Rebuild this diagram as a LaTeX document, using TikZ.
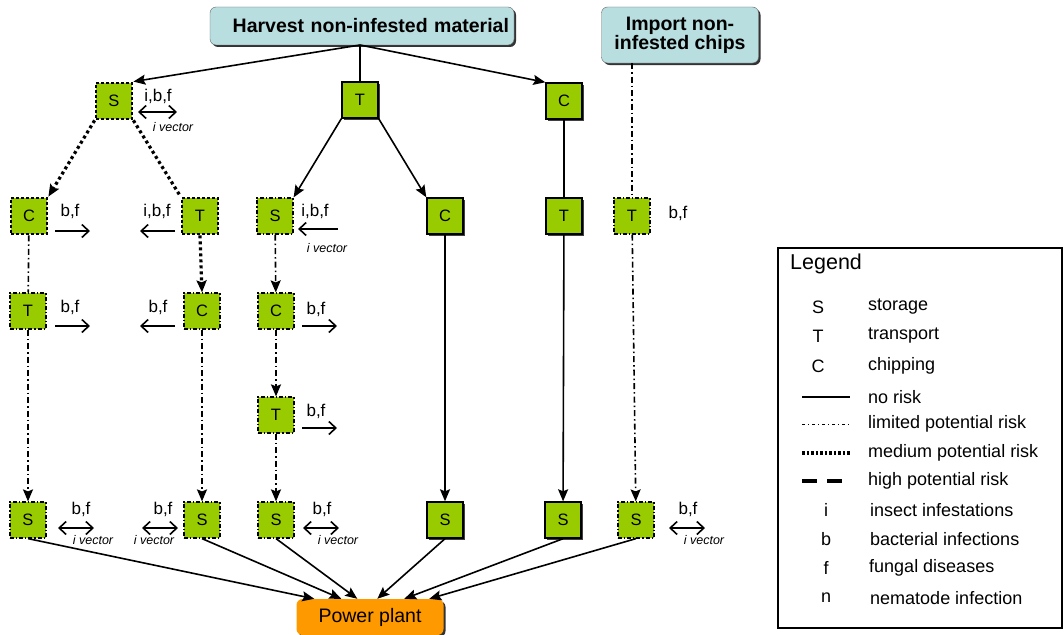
\documentclass[tikz,border=0pt]{standalone}
\usepackage{fontspec}
\setmainfont{Liberation Sans}
\usetikzlibrary{arrows.meta,shadows,positioning}
\definecolor{boxgreen}{HTML}{99CC00}
\definecolor{headfill}{HTML}{B8DEE0}
\definecolor{plantfill}{HTML}{FF9900}
\tikzset{
  x=1pt, y=-1pt,
  every node/.style={font=\fontsize{16}{18}\selectfont},
  stepbase/.style={fill=boxgreen, minimum size=36pt, inner sep=0pt, font=\fontsize{16.5}{18}\selectfont},
  norisk/.style={stepbase, draw=black, line width=1.4pt,
     drop shadow={shadow xshift=2.2pt, shadow yshift=-2.2pt, fill=black!75, opacity=1}},
  limrisk/.style={stepbase, draw=black, line width=1.2pt, dash pattern=on 4pt off 2pt on 1.2pt off 2pt},
  medrisk/.style={stepbase, draw=black, line width=2.8pt, dash pattern=on 2.8pt off 2.2pt, minimum size=36pt},
  cnone/.style={draw, line width=1.6pt},
  climited/.style={draw, line width=1.6pt, dash pattern=on 6pt off 3pt on 1.5pt off 3pt},
  cmedium/.style={draw, line width=3.2pt, dash pattern=on 3pt off 3pt},
  tip/.style={-{Stealth[length=12pt,width=10pt,inset=2pt]}},
  risklbl/.style={font=\fontsize{17}{19}\selectfont, inner sep=0pt},
  veclbl/.style={font=\fontsize{12.5}{14}\selectfont\itshape, inner sep=0pt},
  hazard/.style={line width=1.6pt, -{Straight Barb[length=7pt,width=13pt]}},
  twoway/.style={line width=1.6pt, {Straight Barb[length=7pt,width=13pt]}-{Straight Barb[length=7pt,width=13pt]}},
  headbox/.style={fill=headfill, rounded corners=6pt, draw=black!60, line width=0.4pt,
     drop shadow={shadow xshift=2pt, shadow yshift=-2pt, fill=black!80, opacity=1},
     font=\fontsize{19.5}{22}\selectfont\bfseries},
  keyline/.style={line width=1.5pt},
  keytxt/.style={anchor=west, inner sep=0pt, font=\fontsize{18}{20}\selectfont},
  keysym/.style={inner sep=0pt, font=\fontsize{18}{20}\selectfont},
}
\begin{document}
\begin{tikzpicture}
\useasboundingbox (0,0) rectangle (1064,634);

% sources
\node[headbox, minimum width=304pt, minimum height=38pt, text width=294pt, align=right, inner xsep=5pt, inner ysep=8pt] (harvest) at (362,26) {Harvest non-infested material};
\node[headbox, minimum width=157pt, minimum height=56pt, align=center, inner sep=4pt] (import) at (680,35) {Import non-\\[-3pt]infested chips};
\coordinate (hsplit) at (360,45);

% process steps
\node[medrisk] (s1) at (114,101) {S};
\node[norisk]  (t1) at (360,100) {T};
\node[norisk]  (c1) at (564,101) {C};

\node[medrisk] (c2a) at (29,216) {C};
\node[medrisk] (t2b) at (200,216) {T};
\node[limrisk] (s2c) at (275,216) {S};
\node[norisk]  (c2d) at (445,216) {C};
\node[norisk]  (t2e) at (564,216) {T};
\node[limrisk] (t2f) at (632,216) {T};

\node[limrisk] (t3a) at (28,311) {T};
\node[limrisk] (c3b) at (202,311) {C};
\node[limrisk] (c3c) at (276,311) {C};

\node[limrisk] (t4c) at (276,415) {T};

\node[limrisk] (s5a) at (28,520) {S};
\node[limrisk] (s5b) at (202,520) {S};
\node[limrisk] (s5c) at (276,520) {S};
\node[norisk]  (s5d) at (445,520) {S};
\node[norisk]  (s5e) at (563,520) {S};
\node[limrisk] (s5f) at (636,520) {S};

\node[fill=plantfill, rounded corners=6pt, minimum width=147pt, minimum height=36pt,
      drop shadow={shadow xshift=2pt, shadow yshift=-2pt, fill=black!80, opacity=1},
      font=\fontsize{19.5}{22}\selectfont] (plant) at (370,617) {Power plant};

% flows from the harvest
\draw[cnone, tip] (hsplit) -- (s1.north east);
\draw[cnone] (harvest.south -| t1) -- (t1.north);
\draw[cnone, tip] (hsplit) -- (c1.north west);

% first chain
\draw[cmedium, tip] (s1.south west) -- (c2a.north east);
\draw[cmedium] (s1.south east) -- (t2b.north west);
\draw[climited] (c2a) -- (t3a);
\draw[climited, tip] (t3a) -- (s5a);
\draw[cmedium, tip] (t2b.south) -- (c3b.north);
\draw[climited, tip] (c3b) -- (s5b);

% second chain
\draw[cnone, tip] (t1.south west) -- (s2c.north east);
\draw[cnone, tip] (t1.south east) -- (c2d.north west);
\draw[climited, tip] (s2c) -- (c3c);
\draw[climited, tip] (c3c) -- (t4c);
\draw[climited, tip] (t4c) -- (s5c);
\draw[cnone, tip] (c2d) -- (s5d);

% third chain and imports
\draw[cnone] (c1) -- (t2e);
\draw[cnone, tip] (t2e) -- (s5e);
\draw[climited] (import.south -| t2f) -- (t2f.north);
\draw[climited, tip] (t2f) -- (s5f);

% into the power plant
\draw[cnone, tip] (s5a.south) -- ([xshift=18pt]plant.north west);
\draw[cnone, tip] (s5b.south) -- ([xshift=45pt]plant.north west);
\draw[cnone, tip] (s5c.south) -- ([xshift=61pt]plant.north west);
\draw[cnone, tip] (s5d.south) -- ([xshift=81pt]plant.north west);
\draw[cnone, tip] (s5e.south) -- ([xshift=108pt]plant.north west);
\draw[cnone, tip] (s5f.south) -- ([xshift=133pt]plant.north west);

% hazard annotations
\node[risklbl] (l1) at (158,96) {i,b,f};
\coordinate (l1a) at (138,112); \coordinate (l1b) at (177,112);
\draw[twoway] (l1a) -- (l1b);
\node[veclbl] (v1) at (173,127) {i vector};

\node[risklbl] (l2a) at (70,211) {b,f};
\coordinate (a2a) at (55,231); \coordinate (b2a) at (90,231);
\draw[hazard] (a2a) -- (b2a);

\node[risklbl] (l2b) at (157,211) {i,b,f};
\coordinate (a2b) at (175,231); \coordinate (b2b) at (140,231);
\draw[hazard] (a2b) -- (b2b);

\node[risklbl] (l2c) at (315,211) {i,b,f};
\coordinate (a2c) at (338,229); \coordinate (b2c) at (298,229);
\draw[hazard] (a2c) -- (b2c);
\node[veclbl] (v2c) at (327,248) {i vector};

\node[risklbl] (l2f) at (678,213) {b,f};

\node[risklbl] (l3a) at (70,307) {b,f};
\coordinate (a3a) at (55,326); \coordinate (b3a) at (90,326);
\draw[hazard] (a3a) -- (b3a);

\node[risklbl] (l3b) at (158,307) {b,f};
\coordinate (a3b) at (175,326); \coordinate (b3b) at (140,326);
\draw[hazard] (a3b) -- (b3b);

\node[risklbl] (l3c) at (316,309) {b,f};
\coordinate (a3c) at (302,326); \coordinate (b3c) at (337,326);
\draw[hazard] (a3c) -- (b3c);

\node[risklbl] (l4c) at (316,411) {b,f};
\coordinate (a4c) at (302,428); \coordinate (b4c) at (337,428);
\draw[hazard] (a4c) -- (b4c);

\node[risklbl] (l5a) at (81,509) {b,f};
\coordinate (a5a) at (58,528); \coordinate (b5a) at (94,528);
\draw[twoway] (a5a) -- (b5a);
\node[veclbl] (v5a) at (93,540) {i vector};

\node[risklbl] (l5b) at (163,509) {b,f};
\coordinate (a5b) at (142,528); \coordinate (b5b) at (178,528);
\draw[twoway] (a5b) -- (b5b);
\node[veclbl] (v5b) at (154,540) {i vector};

\node[risklbl] (l5c) at (322,509) {b,f};
\coordinate (a5c) at (303,528); \coordinate (b5c) at (339,528);
\draw[twoway] (a5c) -- (b5c);
\node[veclbl] (v5c) at (338,540) {i vector};

\node[risklbl] (l5f) at (688,509) {b,f};
\coordinate (a5f) at (669,528); \coordinate (b5f) at (705,528);
\draw[twoway] (a5f) -- (b5f);
\node[veclbl] (v5f) at (704,540) {i vector};

% legend
\node[draw, line width=1.2pt, minimum width=284pt, minimum height=380pt, inner sep=0pt] (legend) at (920,438) {};
\node[anchor=west, inner sep=0pt, font=\fontsize{21.5}{24}\selectfont] (ltitle) at (790,264) {Legend};
\node[keysym] (kS) at (818,307) {S};
\node[keytxt] (kSt) at (868,307) {storage};
\node[keysym] (kT) at (818,336) {T};
\node[keytxt] (kTt) at (868,336) {transport};
\node[keysym] (kC) at (818,366) {C};
\node[keytxt] (kCt) at (868,366) {chipping};
\coordinate (k1a) at (802,397); \coordinate (k1b) at (850,397);
\draw[keyline] (k1a) -- (k1b);
\node[keytxt] (k1t) at (868,397) {no risk};
\coordinate (k2a) at (802,424); \coordinate (k2b) at (850,424);
\draw[line width=1pt, dash pattern=on 3pt off 3pt on 1pt off 3pt] (k2a) -- (k2b);
\node[keytxt] (k2t) at (868,424) {limited potential risk};
\coordinate (k3a) at (802,453); \coordinate (k3b) at (850,453);
\draw[line width=3.2pt, dash pattern=on 2.5pt off 2pt] (k3a) -- (k3b);
\node[keytxt] (k3t) at (868,453) {medium potential risk};
\coordinate (k4a) at (802,481); \coordinate (k4b) at (850,481);
\draw[line width=3.2pt, dash pattern=on 15pt off 10pt] (k4a) -- (k4b);
\node[keytxt] (k4t) at (868,481) {high potential risk};
\node[keysym] (ki) at (826,510) {i};
\node[keytxt] (kit) at (870,510) {insect infestations};
\node[keysym] (kb) at (826,539) {b};
\node[keytxt] (kbt) at (870,539) {bacterial infections};
\node[keysym] (kf) at (826,568) {f};
\node[keytxt] (kft) at (869,568) {fungal diseases};
\node[keysym] (kn) at (826,598) {n};
\node[keytxt] (knt) at (870,598) {nematode infection};
\end{tikzpicture}
\end{document}
